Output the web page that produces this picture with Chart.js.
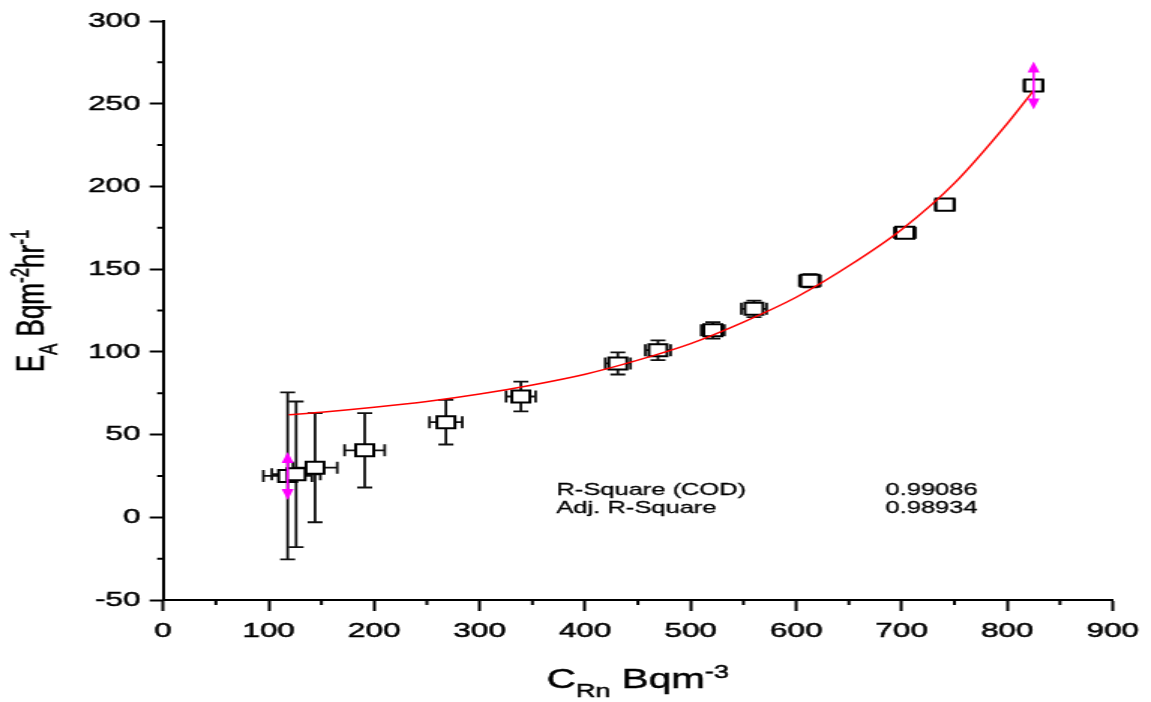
<!DOCTYPE html>
<html>
<head>
<meta charset="utf-8">
<script src="https://cdn.jsdelivr.net/npm/chart.js@4.4.1/dist/chart.umd.min.js"></script>
<style>
  html, body { margin: 0; padding: 0; background: #fff; }
  canvas { display: block; }
</style>
</head>
<body>
<canvas id="chart" width="767" height="702" style="width:1151px;height:702px"></canvas>
<script>
// radon concentration vs exhalation rate
const cRn = [118, 126, 144, 191, 268, 339, 431, 469, 521, 560, 613, 703, 741, 825];
const cRnErr = [23, 23, 21, 19, 15.5, 14, 12, 12, 11, 12, 10, 10, 9, 9];
const eA = [25, 26, 30, 40.5, 57.5, 73, 93, 101, 113, 126, 143, 172, 189, 261];
const eAErr = [50.5, 44, 33, 22.5, 13.5, 9, 6.7, 6, 5, 5, 4, 3, 3, 3];
const flagged = [0, 13]; // points marked with magenta arrows

// fitted curve
const fitX = [119, 150, 200, 250, 300, 350, 400, 450, 500, 550, 600, 650, 700, 750, 800, 825];
const fitY = [62, 63.5, 66.5, 70, 74.5, 80, 86.5, 95, 105, 118, 133, 152, 174, 202, 238, 258];

const xTicks = [0, 100, 200, 300, 400, 500, 600, 700, 800, 900];
const yTicks = [-50, 0, 50, 100, 150, 200, 250, 300];

const statLabels = ["R-Square (COD)", "Adj. R-Square"];
const statValues = ["0.99086", "0.98934"];

const FONT = "'Liberation Sans', Arial, sans-serif";

function richText(ctx, parts, size, subSize) {
  let w = 0;
  parts.forEach(p => {
    ctx.font = (p[1] ? subSize : size) + "px " + FONT;
    p.w = ctx.measureText(p[0]).width;
    w += p.w;
  });
  return w;
}

function drawRich(ctx, parts, x0, size, subSize) {
  let x = x0;
  parts.forEach(p => {
    ctx.font = (p[1] ? subSize : size) + "px " + FONT;
    const dy = p[1] === "sub" ? 9 : p[1] === "sup" ? -10 : 0;
    ctx.strokeText(p[0], x, dy);
    ctx.fillText(p[0], x, dy);
    x += p.w;
  });
}

const errorBars = {
  id: "errorBars",
  beforeDatasetsDraw(chart) {
    const ctx = chart.ctx, xs = chart.scales.x, ys = chart.scales.y;
    ctx.save();
    ctx.strokeStyle = "#111";
    ctx.lineWidth = 1.8;
    cRn.forEach((x, i) => {
      const px = xs.getPixelForValue(x), py = ys.getPixelForValue(eA[i]);
      const top = ys.getPixelForValue(eA[i] + eAErr[i]);
      const bot = ys.getPixelForValue(eA[i] - eAErr[i]);
      const l = xs.getPixelForValue(x - cRnErr[i]);
      const r = xs.getPixelForValue(x + cRnErr[i]);
      ctx.beginPath();
      ctx.moveTo(px, top); ctx.lineTo(px, bot);
      ctx.moveTo(px - 5, top); ctx.lineTo(px + 5, top);
      ctx.moveTo(px - 5, bot); ctx.lineTo(px + 5, bot);
      ctx.moveTo(l, py); ctx.lineTo(r, py);
      ctx.moveTo(l, py - 6); ctx.lineTo(l, py + 6);
      ctx.moveTo(r, py - 6); ctx.lineTo(r, py + 6);
      ctx.stroke();
    });
    ctx.restore();
  },
  afterDatasetsDraw(chart) {
    const ctx = chart.ctx, xs = chart.scales.x, ys = chart.scales.y;
    ctx.save();
    ctx.strokeStyle = "#ff00ff";
    ctx.fillStyle = "#ff00ff";
    ctx.lineWidth = 1.6;
    flagged.forEach(i => {
      const px = xs.getPixelForValue(cRn[i]), py = ys.getPixelForValue(eA[i]);
      const half = 24;
      ctx.beginPath();
      ctx.moveTo(px, py - half + 8); ctx.lineTo(px, py + half - 8);
      ctx.stroke();
      [-1, 1].forEach(d => {
        ctx.beginPath();
        ctx.moveTo(px, py + d * half);
        ctx.lineTo(px - 4, py + d * (half - 11));
        ctx.lineTo(px + 4, py + d * (half - 11));
        ctx.closePath();
        ctx.fill();
      });
    });
    ctx.restore();
  }
};

// minor ticks, axis titles and the fit statistics
const decorations = {
  id: "decorations",
  afterDraw(chart) {
    const ctx = chart.ctx, xs = chart.scales.x, ys = chart.scales.y;
    const area = chart.chartArea;
    ctx.save();
    ctx.strokeStyle = "#000";
    ctx.lineWidth = 2;
    ctx.beginPath();
    for (let v = 50; v < 900; v += 100) {
      const px = xs.getPixelForValue(v);
      ctx.moveTo(px, area.bottom); ctx.lineTo(px, area.bottom + 5);
    }
    for (let v = -25; v < 300; v += 50) {
      const py = ys.getPixelForValue(v);
      ctx.moveTo(area.left, py); ctx.lineTo(area.left - 4, py);
    }
    ctx.stroke();

    ctx.fillStyle = "#000";
    ctx.lineWidth = 0.5;
    ctx.textBaseline = "alphabetic";
    ctx.textAlign = "left";

    const xTitle = [["C"], ["Rn", "sub"], [" Bqm"], ["-3", "sup"]];
    const xw = richText(ctx, xTitle, 27, 18);
    ctx.save();
    ctx.translate((area.left + area.right) / 2 - xw / 2, 688);
    drawRich(ctx, xTitle, 0, 27, 18);
    ctx.restore();

    const yTitle = [["E"], ["A", "sub"], [" Bqm"], ["-2", "sup"], ["hr"], ["-1", "sup"]];
    const yw = richText(ctx, yTitle, 26, 17);
    ctx.save();
    ctx.translate(28.7, 301);
    ctx.rotate(-Math.PI / 2);
    drawRich(ctx, yTitle, -yw / 2, 26, 17);
    ctx.restore();

    ctx.font = "17px " + FONT;
    ctx.lineWidth = 0.3;
    statLabels.forEach((t, i) => {
      ctx.strokeText(t, 370.7, 495 + i * 18);
      ctx.fillText(t, 370.7, 495 + i * 18);
      ctx.strokeText(statValues[i], 590, 495 + i * 18);
      ctx.fillText(statValues[i], 590, 495 + i * 18);
    });
    ctx.restore();
  }
};

new Chart(document.getElementById("chart").getContext("2d"), {
  type: "scatter",
  data: {
    datasets: [
      {
        label: "Fit",
        type: "line",
        data: fitX.map((x, i) => ({ x: x, y: fitY[i] })),
        borderColor: "#ff0000",
        borderWidth: 1.5,
        pointRadius: 0,
        fill: false,
        cubicInterpolationMode: "monotone",
        order: 0,
      },
      {
        label: "EA",
        data: cRn.map((x, i) => ({ x: x, y: eA[i] })),
        pointStyle: "rect",
        pointRadius: 8.5,
        pointHoverRadius: 8.5,
        backgroundColor: "#fff",
        borderColor: "#000",
        borderWidth: 2,
        order: 1,
      },
    ],
  },
  options: {
    responsive: false,
    animation: false,
    devicePixelRatio: 1,
    layout: { padding: { top: 21, right: 23, left: 0, bottom: 0 } },
    scales: {
      x: {
        type: "linear",
        min: 0,
        max: 900,
        afterFit: (scale) => { scale.height = 102; },
        afterBuildTicks: (scale) => { scale.ticks = xTicks.map(v => ({ value: v })); },
        border: { display: true, color: "#000", width: 2 },
        grid: { drawOnChartArea: false, drawTicks: true, tickLength: 11, color: "#000", tickWidth: 2 },
        ticks: { color: "#000", padding: 8, maxRotation: 0, textStrokeColor: "#000", textStrokeWidth: 0.5, font: { family: FONT, size: 21 } },
      },
      y: {
        type: "linear",
        min: -50,
        max: 300,
        afterFit: (scale) => { scale.width = 108.7; },
        afterBuildTicks: (scale) => { scale.ticks = yTicks.map(v => ({ value: v })); },
        border: { display: true, color: "#000", width: 2 },
        grid: { drawOnChartArea: false, drawTicks: true, tickLength: 9, color: "#000", tickWidth: 2 },
        ticks: { color: "#000", padding: 6, textStrokeColor: "#000", textStrokeWidth: 0.5, font: { family: FONT, size: 21 } },
      },
    },
    plugins: {
      legend: { display: false },
      tooltip: { enabled: false },
    },
  },
  plugins: [errorBars, decorations],
});
</script>
</body>
</html>
